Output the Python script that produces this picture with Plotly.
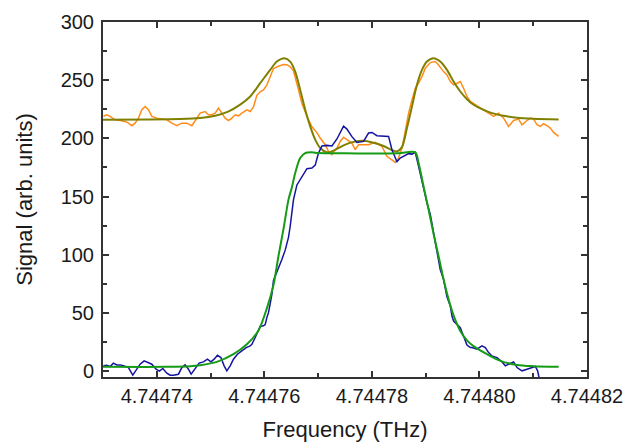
import plotly.graph_objects as go

# Frequencies are stored as offsets (MHz) from 4.74473 THz
base_thz = 4.74473

# Upper trace: measured signal (orange)
upper_off = [0.07, 0.71, 1.32, 2.25, 3.18, 4.11, 4.73, 5.36, 5.97, 6.59, 7.22, 7.83, 8.45, 9.08,
             10.01, 10.94, 11.87, 12.80, 13.73, 14.66, 15.59, 16.52, 17.45, 18.07, 18.99, 19.61,
             20.24, 20.86, 21.47, 22.10, 22.72, 23.33, 23.96, 24.58, 25.19, 25.82, 26.75, 27.37,
             27.98, 28.61, 29.23, 29.84, 30.47, 31.09, 31.70, 32.63, 33.56, 34.20, 34.81, 35.42,
             35.74, 36.35, 36.99, 37.92, 38.85, 39.78, 40.39, 41.32, 41.93, 42.57, 43.18, 43.50,
             44.11, 44.73, 45.36, 46.29, 46.90, 47.52, 48.45, 49.38, 50.62, 51.87, 52.80, 53.73,
             54.34, 54.96, 55.59, 56.20, 56.82, 57.45, 58.07, 58.68, 59.31, 59.93, 60.86, 61.79,
             62.40, 63.33, 63.96, 64.58, 65.19, 65.82, 66.44, 67.05, 67.68, 68.30, 69.23, 70.16,
             71.09, 72.02, 72.63, 73.56, 74.49, 75.42, 76.35, 77.28, 77.91, 78.84, 79.46, 80.07,
             80.71, 81.32, 81.93, 82.57, 83.18, 83.79, 84.73]
upper_sig = [219.0, 220.3, 218.9, 216.0, 215.4, 214.6, 213.1, 210.9, 213.1, 217.4, 224.6, 227.4, 224.6, 218.9,
             217.4, 216.6, 216.0, 213.1, 210.9, 213.1, 213.1, 210.9, 217.4, 221.7, 223.1, 220.3,
             220.3, 221.7, 226.0, 221.7, 217.4, 215.4, 217.4, 220.3, 219.4, 221.7, 224.6, 223.1,
             227.0, 237.0, 240.0, 241.7, 246.0, 253.0, 260.0, 262.0, 263.5, 263.3, 261.5, 258.0,
             253.0, 241.7, 230.0, 219.0, 210.0, 205.0, 200.3, 194.6, 188.8, 186.0, 190.3, 191.7,
             197.4, 201.0, 198.9, 196.0, 190.3, 194.6, 194.6, 194.6, 196.6, 193.1, 184.6, 181.7,
             179.4, 183.1, 191.7, 206.0, 221.7, 233.1, 243.1, 247.4, 253.1, 260.3, 265.1, 266.0,
             263.1, 257.4, 254.6, 248.9, 246.0, 247.4, 248.9, 243.1, 236.0, 231.7, 228.9, 226.0,
             223.1, 220.3, 218.9, 221.7, 217.4, 210.3, 215.4, 216.6, 211.7, 215.4, 217.4, 216.6,
             211.7, 210.3, 212.6, 210.9, 208.9, 205.1, 201.7]

# Upper fit (olive)
upper_fit_off = [0.0, 8.76, 14.34, 18.07, 20.86, 23.27, 25.51, 27.37, 29.23, 31.09, 32.33, 33.75,
                 34.81, 35.74, 36.67, 37.60, 38.53, 39.46, 40.39, 41.64, 42.87, 44.73, 46.59, 48.45,
                 50.31, 52.17, 53.73, 54.66, 55.59, 56.52, 57.45, 58.38, 59.31, 60.24, 61.47, 62.72,
                 63.96, 65.19, 66.44, 67.68, 68.91, 70.47, 72.33, 74.49, 76.99, 80.07, 84.73]
upper_fit_sig = [216.0, 216.2, 216.6, 217.5, 219.5, 223.0, 229.0, 236.0, 247.4, 258.9, 266.0, 268.9,
                 266.0, 257.4, 241.7, 224.6, 210.3, 198.9, 191.7, 188.0, 189.5, 194.0, 197.0, 198.0,
                 196.3, 193.5, 190.0, 188.8, 192.5, 208.9, 227.4, 246.0, 258.9, 266.0, 268.9, 266.0,
                 258.9, 248.9, 240.3, 233.7, 228.9, 225.1, 221.7, 219.4, 217.7, 216.9, 216.3]

# Lower trace: measured signal (blue)
lower_off = [0.07, 0.71, 1.32, 1.93, 2.57, 3.18, 3.80, 4.73, 5.54, 6.29, 6.90, 7.65, 8.45, 9.08,
             9.88, 10.49, 11.13, 11.87, 12.48, 13.10, 14.03, 14.66, 15.27, 15.89, 16.39, 17.13,
             17.88, 18.68, 19.42, 20.06, 20.67, 21.28, 21.92, 22.53, 23.03, 23.65, 24.26, 25.00,
             25.82, 26.62, 27.37, 27.68, 28.30, 28.61, 29.23, 29.84, 30.16, 30.47, 30.77, 31.09,
             31.40, 31.70, 32.02, 32.63, 33.26, 33.88, 34.49, 34.81, 35.13, 35.42, 36.06, 36.67,
             37.28, 37.92, 38.85, 39.46, 40.07, 40.71, 41.64, 42.57, 43.50, 44.11, 44.73, 45.36,
             45.66, 46.29, 47.22, 48.45, 49.38, 50.01, 50.94, 52.48, 53.10, 53.73, 54.66, 55.27,
             55.89, 56.82, 57.45, 58.07, 58.68, 59.61, 60.24, 60.86, 61.47, 62.10, 62.72, 63.33,
             63.96, 64.58, 64.89, 65.19, 65.82, 66.44, 67.05, 67.68, 68.30, 68.61, 69.54, 70.47,
             71.09, 71.70, 72.33, 73.26, 74.19, 74.81, 75.42, 76.35, 76.99, 77.91, 78.84, 79.78,
             80.39, 80.82, 81.08]
lower_sig = [4.6, 5.1, 4.0, 6.9, 5.4, 5.4, 4.6, 3.1, -3.4, 1.7, 6.0, 8.9, 7.4, 6.0,
             1.7, 0.0, 2.3, -1.7, -3.4, -3.4, -2.6, 3.1, 5.4, 1.7, -2.6, 1.7,
             6.9, 8.0, 10.3, 8.0, 10.3, 13.7, 11.7, 4.6, 0.3, 4.6, 10.3, 14.6,
             17.4, 20.3, 21.7, 23.1, 28.9, 31.7, 38.5, 39.0, 40.0, 46.0, 50.3, 58.0,
             66.0, 78.0, 81.5, 89.0, 96.0, 104.0, 115.0, 124.5, 135.0, 147.4, 160.0, 164.6,
             170.3, 174.0, 174.6, 177.0, 187.4, 193.5, 194.0, 193.5, 199.5, 204.6, 210.5, 208.0,
             206.0, 201.5, 196.5, 197.4, 204.6, 205.1, 202.3, 202.3, 201.7, 190.3, 180.0, 183.1,
             184.6, 186.9, 186.5, 188.0, 176.0, 156.0, 144.6, 134.6, 118.9, 104.6, 87.0, 78.9,
             64.0, 56.0, 47.4, 43.1, 40.3, 37.4, 30.0, 22.5, 20.3, 20.3, 18.9, 21.7,
             20.3, 16.0, 13.1, 11.7, 8.0, 4.6, 6.0, 8.0, 3.1, 0.3, 1.7, 3.1,
             4.0, 0.3, -5.4]

# Lower fit (green)
lower_fit_off = [0.0, 11.87, 16.20, 18.07, 21.17, 24.26, 26.75, 28.91, 30.47, 31.70, 32.63, 33.56,
                 34.49, 35.13, 35.74, 36.67, 37.60, 38.85, 40.07, 45.0, 50.0, 55.0, 58.07, 58.68,
                 59.61, 60.54, 61.47, 62.40, 63.33, 64.26, 65.19, 66.44, 67.68, 68.91, 71.40, 73.88,
                 76.99, 80.07, 84.73]
lower_fit_sig = [3.7, 3.7, 4.2, 5.1, 8.0, 14.6, 23.1, 35.0, 54.0, 74.0, 99.0, 122.0,
                 147.4, 158.0, 170.3, 183.1, 187.4, 188.0, 187.4, 187.2, 187.0, 187.2, 188.0, 178.9,
                 158.8, 138.9, 118.0, 98.8, 78.9, 61.7, 48.0, 34.6, 26.5, 21.5, 14.6, 8.9,
                 5.4, 4.3, 3.7]

x_tick_vals = [4.74474, 4.74476, 4.74478, 4.74480, 4.74482]
x_tick_text = ["4.74474", "4.74476", "4.74478", "4.74480", "4.74482"]
y_tick_vals = [0, 50, 100, 150, 200, 250, 300]


def to_thz(offsets):
    return [base_thz + o * 1e-6 for o in offsets]


fig = go.Figure()
fig.add_trace(go.Scatter(x=to_thz(upper_off), y=upper_sig, mode="lines",
                         line=dict(color="#FF8C1A", width=1.5)))
fig.add_trace(go.Scatter(x=to_thz(upper_fit_off), y=upper_fit_sig, mode="lines",
                         line=dict(color="#808000", width=2, shape="spline", smoothing=0.8)))
fig.add_trace(go.Scatter(x=to_thz(lower_off), y=lower_sig, mode="lines",
                         line=dict(color="#1414A0", width=1.5)))
fig.add_trace(go.Scatter(x=to_thz(lower_fit_off), y=lower_fit_sig, mode="lines",
                         line=dict(color="#169B16", width=2, shape="spline", smoothing=0.8)))

font_family = "Liberation Sans, Arial, sans-serif"
axis_common = dict(
    showline=True, linewidth=2, linecolor="#333333", mirror="ticks",
    ticks="inside", ticklen=6, tickwidth=1.5, tickcolor="#333333",
    showgrid=False, zeroline=False, automargin=False,
    tickfont=dict(family=font_family, size=20, color="#1a1a1a"),
)

fig.update_layout(
    width=635, height=442,
    margin=dict(l=103, r=48, t=22, b=65, autoexpand=False),
    paper_bgcolor="white", plot_bgcolor="white",
    showlegend=False,
    xaxis=dict(
        range=[4.74473, 4.74482],
        tickvals=x_tick_vals, ticktext=x_tick_text,
        minor=dict(ticks="inside", ticklen=4, tickwidth=1.5, tickcolor="#333333", dtick=1e-5,
                   tick0=4.74473),
        title=dict(text="Frequency (THz)", font=dict(family=font_family, size=22, color="#1a1a1a"),
                   standoff=16),
        **axis_common,
    ),
    yaxis=dict(
        range=[-5, 300],
        tickvals=y_tick_vals,
        ticklabelstandoff=3,
        minor=dict(ticks="inside", ticklen=4, tickwidth=1.5, tickcolor="#333333", dtick=25, tick0=0),
        title=dict(text="Signal (arb. units)", font=dict(family=font_family, size=22, color="#1a1a1a"),
                   standoff=22),
        **axis_common,
    ),
)

fig.write_html("out.html", config={"displayModeBar": False},
               post_script="document.body.style.margin='0';document.body.style.overflow='hidden';")
